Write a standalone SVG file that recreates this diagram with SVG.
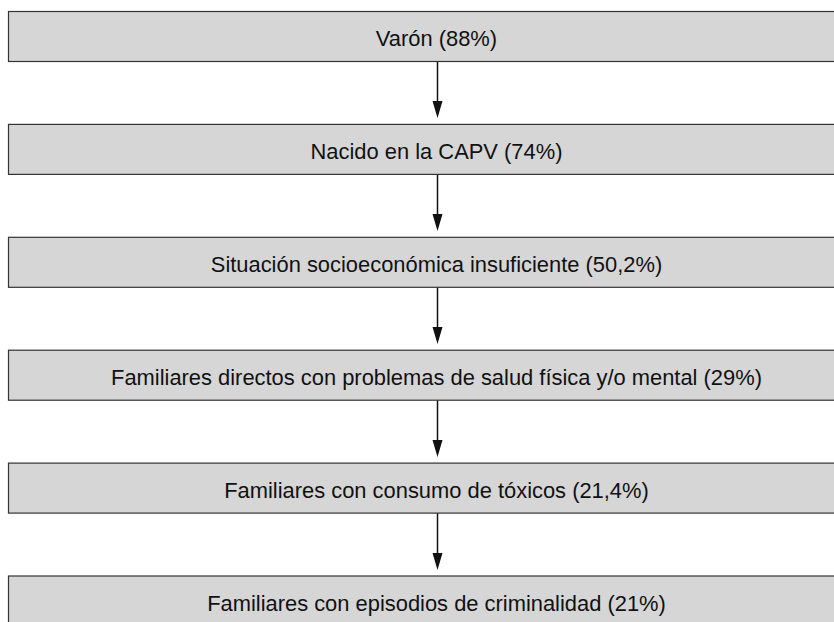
<svg xmlns="http://www.w3.org/2000/svg" width="834" height="622" viewBox="0 0 834 622">
<style>
.box{fill:#d6d6d6;stroke:#333333;stroke-width:1.2}
.lbl{font-family:"Liberation Sans",Arial,Helvetica,sans-serif;font-size:21.9px;fill:#111111;text-anchor:middle}
.con{stroke:#111111;stroke-width:1.5;fill:none}
.head{fill:#111111}
</style>
<rect width="834" height="622" fill="#ffffff"/>
<g id="connectors">
<line class="con" x1="437.5" y1="61.5" x2="437.5" y2="101"/>
<polygon class="head" points="432.5,101 442.5,101 437.5,118"/>
<line class="con" x1="437.5" y1="174.4" x2="437.5" y2="214"/>
<polygon class="head" points="432.5,214 442.5,214 437.5,231"/>
<line class="con" x1="437.5" y1="287.3" x2="437.5" y2="327"/>
<polygon class="head" points="432.5,327 442.5,327 437.5,344"/>
<line class="con" x1="437.5" y1="400.2" x2="437.5" y2="440"/>
<polygon class="head" points="432.5,440 442.5,440 437.5,457"/>
<line class="con" x1="437.5" y1="513.1" x2="437.5" y2="553"/>
<polygon class="head" points="432.5,553 442.5,553 437.5,570"/>
</g>
<g id="n1"><rect class="box" x="8.5" y="11.5" width="860" height="50"/><text class="lbl" x="436.5" y="46">Varón (88%)</text></g>
<g id="n2"><rect class="box" x="8.5" y="124.4" width="860" height="50"/><text class="lbl" x="436.5" y="158.9">Nacido en la CAPV (74%)</text></g>
<g id="n3"><rect class="box" x="8.5" y="237.3" width="860" height="50"/><text class="lbl" x="436.5" y="271.8">Situación socioeconómica insuficiente (50,2%)</text></g>
<g id="n4"><rect class="box" x="8.5" y="350.2" width="860" height="50"/><text class="lbl" x="436.5" y="384.5">Familiares directos con problemas de salud física y/o mental (29%)</text></g>
<g id="n5"><rect class="box" x="8.5" y="463.1" width="860" height="50"/><text class="lbl" x="436.5" y="497.6">Familiares con consumo de tóxicos (21,4%)</text></g>
<g id="n6"><rect class="box" x="8.5" y="576" width="860" height="50"/><text class="lbl" x="436.5" y="610.5">Familiares con episodios de criminalidad (21%)</text></g>
</svg>
